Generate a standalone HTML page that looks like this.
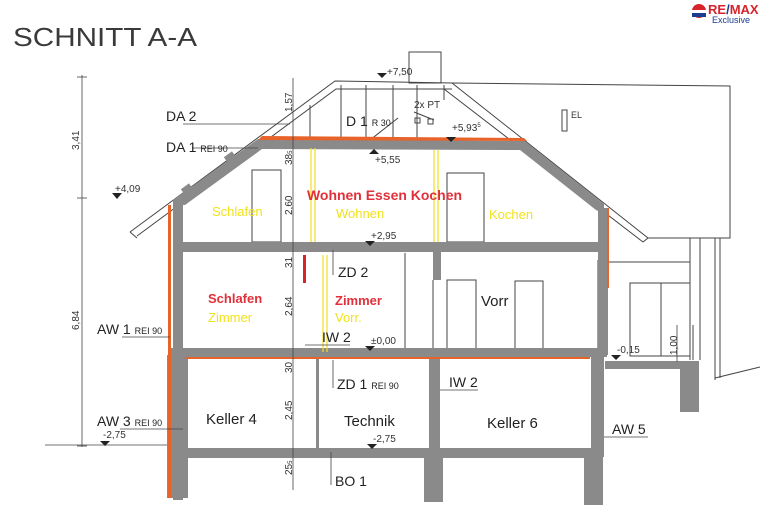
<!DOCTYPE html>
<html><head><meta charset="utf-8"><style>
html,body{margin:0;padding:0;background:#fff;}
svg{display:block;font-family:"Liberation Sans",Arial,sans-serif;}
</style></head><body>
<svg width="770" height="526" viewBox="0 0 770 526" xmlns="http://www.w3.org/2000/svg">
<rect width="770" height="526" fill="#fff"/>
<!-- title -->
<text x="13" y="46" font-size="26" fill="#3a3a3a" textLength="184" lengthAdjust="spacingAndGlyphs">SCHNITT A-A</text>
<!-- logo -->
<circle cx="699" cy="11" r="7" fill="#d8232a"/><rect x="692" y="10" width="14" height="3" fill="#fff"/><rect x="692" y="13" width="14" height="4" fill="#1a3d8f"/>
<text x="708" y="14" font-size="13" font-weight="bold" fill="#d8232a">RE<tspan fill="#1a3d8f">/</tspan>MAX</text>
<text x="712" y="23" font-size="9" fill="#1a3d8f">Exclusive</text>

<g stroke="#444" stroke-width="1" fill="none">
<rect x="409" y="52" width="32" height="31"/>
<polyline points="130,232 335,81 452,83 730,86 730,238 648,238"/>
<polyline points="137,236 336,89 452,89"/>
<polyline points="452,83 648,238 643,242 444,89"/>
<line x1="130" y1="232" x2="137" y2="238"/>
<line x1="341" y1="85" x2="341" y2="140"/><line x1="366" y1="85" x2="366" y2="140"/>
<line x1="393" y1="85" x2="393" y2="140"/><line x1="417" y1="85" x2="417" y2="140"/>
<line x1="444" y1="85" x2="444" y2="100"/>
<line x1="310" y1="105" x2="310" y2="137"/>
<line x1="370" y1="140" x2="398" y2="118"/>
<line x1="608" y1="262" x2="690" y2="262"/>
<line x1="690" y1="238" x2="690" y2="360"/><line x1="700" y1="238" x2="700" y2="360"/>
<line x1="715" y1="238" x2="715" y2="380"/><line x1="720" y1="238" x2="720" y2="378"/>
<line x1="715" y1="378" x2="760" y2="367"/>
<line x1="693" y1="325" x2="693" y2="360"/>
<rect x="252" y="170" width="29" height="72"/>
<rect x="447" y="173" width="37" height="69"/>
<rect x="447" y="280" width="29" height="70"/>
<rect x="515" y="281" width="28" height="69"/>
<rect x="630" y="283" width="31" height="73"/><rect x="661" y="283" width="29" height="73"/>
<line x1="405" y1="253" x2="405" y2="350"/>
<line x1="433" y1="280" x2="433" y2="350"/>
<line x1="598" y1="260" x2="598" y2="350"/><line x1="602" y1="260" x2="602" y2="350"/>
<rect x="562" y="110" width="5" height="21"/>
<rect x="415" y="118" width="5" height="5"/><rect x="428" y="119" width="5" height="5"/>
<line x1="414" y1="112" x2="434" y2="120"/>
</g>
<g fill="#8a8a8a">
<polygon points="258,139 525,141 604,204 604,214 596,210 520,150 262,149 185,205 173,205 173,200"/>
<rect x="173" y="200" width="10" height="300"/>
<rect x="167" y="355" width="21" height="143"/>
<rect x="598" y="208" width="10" height="147"/>
<rect x="183" y="242" width="425" height="10"/>
<rect x="170" y="348" width="437" height="9"/>
<rect x="183" y="448" width="418" height="10"/>
<rect x="316" y="358" width="3" height="92"/>
<rect x="429" y="357" width="11" height="95"/>
<rect x="424" y="452" width="19" height="50"/>
<rect x="591" y="357" width="13" height="100"/>
<rect x="584" y="450" width="19" height="55"/>
<rect x="433" y="252" width="8" height="28"/>
<rect x="605" y="361" width="94" height="8"/>
<rect x="680" y="361" width="19" height="51"/>
<rect x="227" y="153" width="10" height="14" transform="rotate(-36 232 160)"/>
<rect x="184" y="185" width="10" height="14" transform="rotate(-36 189 192)"/>
</g>
<g fill="#e8632a">
<polygon points="262,136 524,138 527,141 258,140"/>
<rect x="168" y="205" width="3" height="293"/>
<rect x="607" y="208" width="2" height="80"/>
<rect x="185" y="357" width="405" height="2"/>
</g>
<rect x="303" y="255" width="3" height="28" fill="#d8232a"/>
<g stroke="#f0e020" stroke-width="1.2">
<line x1="311" y1="148" x2="311" y2="242"/><line x1="315" y1="148" x2="315" y2="242"/>
<line x1="434" y1="150" x2="434" y2="242"/><line x1="438" y1="150" x2="438" y2="242"/>
<line x1="323" y1="255" x2="323" y2="352"/><line x1="327" y1="255" x2="327" y2="352"/>
</g>
<g stroke="#444" stroke-width="0.8">
<line x1="82" y1="75" x2="82" y2="447"/>
<line x1="77" y1="77" x2="87" y2="77"/><line x1="77" y1="198" x2="87" y2="198"/><line x1="77" y1="446" x2="87" y2="446"/>
<line x1="45" y1="445" x2="167" y2="445"/>
<line x1="293" y1="78" x2="293" y2="490"/>
<line x1="183" y1="124" x2="290" y2="124"/>
<line x1="192" y1="148" x2="258" y2="148"/>
<line x1="122" y1="337" x2="170" y2="337"/>
<line x1="120" y1="429" x2="183" y2="429"/>
<line x1="305" y1="345" x2="350" y2="345"/>
<line x1="333" y1="360" x2="333" y2="388"/>
<line x1="333" y1="250" x2="333" y2="275"/>
<line x1="331" y1="452" x2="331" y2="485"/>
<line x1="440" y1="390" x2="478" y2="390"/>
<line x1="604" y1="437" x2="648" y2="437"/>
<line x1="677" y1="325" x2="677" y2="362"/>
</g>
<g fill="#222">
<polygon points="377,73 387,73 382,78"/>
<polygon points="369,154 379,154 374,149"/>
<polygon points="446,137 456,137 451,142"/>
<polygon points="112,193 122,193 117,199"/>
<polygon points="365,241 375,241 370,246"/>
<polygon points="365,346 375,346 370,351"/>
<polygon points="100,441 110,441 105,446"/>
<polygon points="367,444 377,444 372,449"/>
<polygon points="611,355 621,355 616,360"/>
</g>
<g font-size="10" fill="#333">
<text x="387" y="75">+7,50</text>
<text x="375" y="163">+5,55</text>
<text x="452" y="131">+5,93<tspan font-size="6" dy="-4">5</tspan></text>
<text x="115" y="192">+4,09</text>
<text x="371" y="239">+2,95</text>
<text x="371" y="344">±0,00</text>
<text x="103" y="438">-2,75</text>
<text x="373" y="442">-2,75</text>
<text x="617" y="353">-0,15</text>
<text x="414" y="108">2x PT</text>
<text x="571" y="118" font-size="9">EL</text>
</g>
<g font-size="10" fill="#333">
<text transform="translate(79,150) rotate(-90)">3,41</text>
<text transform="translate(79,330) rotate(-90)">6,84</text>
<text transform="translate(292,112) rotate(-90)">1,57</text>
<text transform="translate(292,165) rotate(-90)">38<tspan font-size="6">5</tspan></text>
<text transform="translate(292,215) rotate(-90)">2,60</text>
<text transform="translate(292,268) rotate(-90)">31</text>
<text transform="translate(292,316) rotate(-90)">2,64</text>
<text transform="translate(292,373) rotate(-90)">30</text>
<text transform="translate(292,420) rotate(-90)">2,45</text>
<text transform="translate(292,475) rotate(-90)">25<tspan font-size="6">5</tspan></text>
<text transform="translate(677,355) rotate(-90)">1,00</text>
</g>
<g font-size="14" fill="#222">
<text x="166" y="121">DA 2</text>
<text x="166" y="152">DA 1 <tspan font-size="9">REI 90</tspan></text>
<text x="346" y="126">D 1 <tspan font-size="9">R 30</tspan></text>
<text x="97" y="334">AW 1 <tspan font-size="9">REI 90</tspan></text>
<text x="97" y="426">AW 3 <tspan font-size="9">REI 90</tspan></text>
<text x="338" y="277">ZD 2</text>
<text x="322" y="342">IW 2</text>
<text x="337" y="389">ZD 1 <tspan font-size="9">REI 90</tspan></text>
<text x="449" y="387">IW 2</text>
<text x="612" y="434">AW 5</text>
<text x="335" y="486">BO 1</text>
<text x="206" y="424" font-size="15">Keller 4</text>
<text x="344" y="426" font-size="15">Technik</text>
<text x="487" y="428" font-size="15">Keller 6</text>
<text x="481" y="306" font-size="15">Vorr</text>
</g>
<g font-size="13">
<text x="307" y="200" fill="#e0303a" font-size="14" font-weight="bold" textLength="155" lengthAdjust="spacingAndGlyphs">Wohnen Essen Kochen</text>
<text x="336" y="218" fill="#f2e21a">Wohnen</text>
<text x="212" y="216" fill="#f2e21a">Schlafen</text>
<text x="489" y="219" fill="#f2e21a">Kochen</text>
<text x="208" y="303" fill="#e0303a" font-weight="bold">Schlafen</text>
<text x="208" y="322" fill="#f2e21a">Zimmer</text>
<text x="335" y="305" fill="#e0303a" font-weight="bold">Zimmer</text>
<text x="335" y="322" fill="#f2e21a">Vorr.</text>
</g>
</svg>
</body></html>
